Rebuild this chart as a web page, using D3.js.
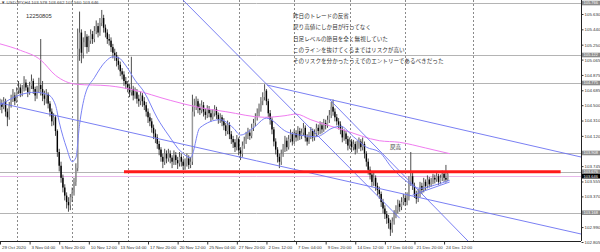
<!DOCTYPE html>
<html>
<head>
<meta charset="utf-8">
<script src="https://cdn.jsdelivr.net/npm/d3@7"></script>
<style>
  body { margin: 0; background: #fff; }
  svg { display: block; }
  text { font-family: "Liberation Sans", Arial, sans-serif; }
  .jp { font-family: "Noto Sans CJK JP", sans-serif; }
</style>
</head>
<body>
<script>
// USDJPY H4 candles, bar 0 = 29 Oct 2020
let opens = [
  104.50,104.52,104.48,104.55,104.42,104.35,104.50,104.58,104.62,104.55,
  104.68,104.72,104.65,104.70,104.78,104.72,104.66,104.74,104.80,104.70,
  104.62,104.68,104.75,104.70,104.62,104.58,104.64,104.52,104.42,104.30,
  104.35,104.18,103.92,103.75,103.60,103.48,103.38,103.30,103.26,103.36,
  103.42,103.55,103.72,105.20,105.40,105.15,105.28,105.35,105.22,105.30,
  105.38,105.32,105.42,105.48,105.40,105.52,105.58,105.46,105.40,105.32,
  105.30,105.22,105.15,105.12,105.05,105.00,104.92,104.88,104.80,104.76,
  104.72,104.66,104.70,104.62,104.66,104.58,104.55,104.62,104.55,104.50,
  104.42,104.35,104.30,104.22,104.15,104.10,104.02,103.95,103.86,103.80,
  103.90,103.84,103.90,103.85,103.80,103.88,103.82,103.78,103.86,103.80,
  103.75,103.78,103.84,103.76,103.80,104.42,104.50,104.55,104.47,104.44,
  104.50,104.42,104.38,104.45,104.40,104.35,104.40,104.45,104.38,104.32,
  104.35,104.30,104.25,104.18,104.26,104.14,104.08,104.04,103.98,104.08,
  103.94,103.90,104.00,104.06,104.12,104.16,104.12,104.22,104.28,104.35,
  104.40,104.46,104.55,104.60,104.68,104.55,104.40,104.32,104.20,104.05,
  103.95,103.86,103.80,103.90,103.96,104.06,103.98,104.08,104.14,104.05,
  104.15,104.10,104.18,104.12,104.16,104.22,104.10,104.05,104.12,104.18,
  104.10,104.15,104.22,104.18,104.25,104.20,104.28,104.25,104.32,104.38,
  104.48,104.42,104.35,104.30,104.26,104.20,104.10,104.15,104.08,104.00,
  104.05,103.98,104.02,103.95,104.00,104.05,103.98,104.02,103.90,103.80,
  103.70,103.64,103.55,103.60,103.50,103.45,103.40,103.30,103.22,103.15,
  103.10,103.04,102.96,103.06,103.15,103.20,103.28,103.24,103.30,103.35,
  103.30,103.36,103.55,103.62,103.50,103.40,103.34,103.40,103.50,103.45,
  103.55,103.50,103.58,103.52,103.55,103.60,103.58,103.62,103.55,103.60,
  103.65,103.60,103.578
]
let highs = [
  104.58,104.57,104.60,104.58,104.46,104.54,104.63,104.70,104.66,104.72,
  104.80,104.76,104.75,104.86,104.82,104.75,104.79,104.88,104.83,104.73,
  104.74,104.84,105.32,104.80,104.68,104.70,104.66,104.55,104.46,104.40,
  104.38,104.20,103.96,103.80,103.64,103.52,103.42,103.36,103.40,103.48,
  103.60,103.78,105.45,105.66,105.44,105.34,105.42,105.38,105.36,105.44,
  105.42,105.48,105.55,105.52,105.58,105.68,105.62,105.50,105.44,105.38,
  105.34,105.26,105.20,105.16,105.10,105.04,104.96,104.92,104.85,104.80,
  104.76,105.10,104.74,104.72,104.70,104.63,104.67,104.65,104.60,104.54,
  104.46,104.40,104.34,104.26,104.20,104.14,104.06,103.98,103.90,103.96,
  103.94,103.96,103.94,103.88,103.94,103.92,103.86,103.92,103.90,103.84,
  103.84,103.90,103.88,103.86,104.63,104.58,104.61,104.58,104.52,104.56,
  104.54,104.46,104.50,104.49,104.44,104.45,104.50,104.48,104.41,104.40,
  104.38,104.34,104.28,104.31,104.29,104.18,104.12,104.08,104.13,104.10,
  103.98,104.05,104.11,104.17,104.22,104.20,104.27,104.33,104.40,104.46,
  104.52,104.60,104.66,104.76,104.70,104.58,104.44,104.35,104.23,104.09,
  103.98,103.90,103.95,104.02,104.12,104.10,104.13,104.20,104.17,104.20,
  104.19,104.24,104.22,104.21,104.28,104.25,104.14,104.17,104.23,104.21,
  104.20,104.27,104.26,104.30,104.29,104.33,104.32,104.37,104.44,104.54,
  104.57,104.46,104.39,104.34,104.30,104.24,104.20,104.18,104.12,104.10,
  104.08,104.07,104.05,104.06,104.10,104.08,104.10,104.05,103.93,103.84,
  103.74,103.68,103.66,103.63,103.54,103.49,103.43,103.34,103.26,103.19,
  103.14,103.08,103.11,103.20,103.26,103.33,103.32,103.36,103.40,103.39,
  103.42,103.62,103.92,103.66,103.54,103.44,103.46,103.55,103.54,103.60,
  103.58,103.63,103.61,103.60,103.65,103.64,103.67,103.65,103.64,103.69,
  103.67,103.76,103.662
]
let lows = [
  104.44,104.40,104.45,104.36,104.24,104.32,104.47,104.54,104.50,104.53,
  104.64,104.60,104.61,104.67,104.68,104.60,104.63,104.70,104.64,104.55,
  104.58,104.65,104.62,104.55,104.50,104.52,104.46,104.36,104.24,104.25,
  104.12,103.86,103.68,103.54,103.42,103.32,103.22,103.18,103.20,103.30,
  103.38,103.50,103.68,105.05,105.02,105.08,105.22,105.14,105.16,105.26,
  105.26,105.28,105.38,105.34,105.36,105.48,105.40,105.34,105.26,105.24,
  105.16,105.08,105.05,104.98,104.94,104.86,104.82,104.74,104.70,104.66,
  104.60,104.62,104.56,104.58,104.52,104.48,104.50,104.48,104.44,104.36,
  104.28,104.24,104.16,104.08,104.03,103.96,103.88,103.80,103.72,103.76,
  103.78,103.80,103.78,103.72,103.76,103.76,103.71,103.74,103.74,103.70,
  103.70,103.74,103.71,103.72,103.76,104.36,104.44,104.40,104.38,104.40,
  104.36,104.32,104.34,104.35,104.30,104.32,104.36,104.33,104.27,104.28,
  104.24,104.19,104.12,104.14,104.08,104.02,103.97,103.92,103.94,103.88,
  103.82,103.86,103.96,104.02,104.08,104.07,104.09,104.18,104.24,104.31,
  104.36,104.42,104.50,104.56,104.50,104.35,104.26,104.14,103.99,103.89,
  103.79,103.72,103.76,103.86,103.92,103.93,103.95,104.04,104.00,104.02,
  104.05,104.06,104.07,104.08,104.12,104.05,104.00,104.02,104.08,104.05,
  104.06,104.11,104.13,104.14,104.15,104.17,104.20,104.22,104.28,104.34,
  104.37,104.30,104.25,104.20,104.14,104.04,104.06,104.02,103.94,103.96,
  103.92,103.94,103.89,103.91,103.96,103.93,103.94,103.84,103.74,103.64,
  103.58,103.49,103.50,103.44,103.38,103.34,103.24,103.16,103.09,103.03,
  102.97,102.88,102.92,103.02,103.10,103.16,103.18,103.20,103.26,103.25,
  103.26,103.32,103.50,103.45,103.35,103.28,103.30,103.36,103.40,103.42,
  103.45,103.47,103.48,103.49,103.52,103.53,103.55,103.51,103.52,103.56,
  103.55,103.54,103.560
]
let closes = [
  104.52,104.48,104.55,104.42,104.35,104.50,104.58,104.62,104.55,104.68,
  104.72,104.65,104.70,104.78,104.72,104.66,104.74,104.80,104.70,104.62,
  104.68,104.75,104.70,104.62,104.58,104.64,104.52,104.42,104.30,104.35,
  104.18,103.92,103.75,103.60,103.48,103.38,103.30,103.26,103.36,103.42,
  103.55,103.72,105.20,105.40,105.15,105.28,105.35,105.22,105.30,105.38,
  105.32,105.42,105.48,105.40,105.52,105.58,105.46,105.40,105.32,105.30,
  105.22,105.15,105.12,105.05,105.00,104.92,104.88,104.80,104.76,104.72,
  104.66,104.70,104.62,104.66,104.58,104.55,104.62,104.55,104.50,104.42,
  104.35,104.30,104.22,104.15,104.10,104.02,103.95,103.86,103.80,103.90,
  103.84,103.90,103.85,103.80,103.88,103.82,103.78,103.86,103.80,103.75,
  103.78,103.84,103.76,103.80,104.42,104.50,104.55,104.47,104.44,104.50,
  104.42,104.38,104.45,104.40,104.35,104.40,104.45,104.38,104.32,104.35,
  104.30,104.25,104.18,104.26,104.14,104.08,104.04,103.98,104.08,103.94,
  103.90,104.00,104.06,104.12,104.16,104.12,104.22,104.28,104.35,104.40,
  104.46,104.55,104.60,104.68,104.55,104.40,104.32,104.20,104.05,103.95,
  103.86,103.80,103.90,103.96,104.06,103.98,104.08,104.14,104.05,104.15,
  104.10,104.18,104.12,104.16,104.22,104.10,104.05,104.12,104.18,104.10,
  104.15,104.22,104.18,104.25,104.20,104.28,104.25,104.32,104.38,104.48,
  104.42,104.35,104.30,104.26,104.20,104.10,104.15,104.08,104.00,104.05,
  103.98,104.02,103.95,104.00,104.05,103.98,104.02,103.90,103.80,103.70,
  103.64,103.55,103.60,103.50,103.45,103.40,103.30,103.22,103.15,103.10,
  103.04,102.96,103.06,103.15,103.20,103.28,103.24,103.30,103.35,103.30,
  103.36,103.55,103.62,103.50,103.40,103.34,103.40,103.50,103.45,103.55,
  103.50,103.58,103.52,103.55,103.60,103.58,103.62,103.55,103.60,103.65,
  103.60,103.578,103.646
]

// moving averages, read at selected bars
let slowMaBars = [0, 11, 22, 30, 41, 59, 72, 92, 108, 122, 143, 154, 160, 168, 186, 205, 216, 230, 243]
let slowMaVals = [105.26, 105.18, 105.06, 104.87, 104.76, 104.74, 104.69, 104.56, 104.47, 104.42,
                  104.35, 104.37, 104.39, 104.32, 104.19, 104.06, 104.04, 103.97, 103.90]
let fastMaBars = [0, 11, 19, 26, 30, 32, 36, 39, 41, 43, 46, 51, 57, 61, 64, 68, 73, 78, 85, 91,
                  98, 103, 108, 119, 126, 130, 137, 144, 155, 162, 171, 180, 184, 191, 198, 205, 212, 219, 227, 235, 243]
let fastMaVals = [104.50, 104.63, 104.66, 104.63, 104.50, 104.29, 103.97, 103.80, 103.85, 104.26,
                  104.63, 104.84, 105.04, 105.10, 105.09, 104.99, 104.81, 104.66, 104.34, 104.13,
                  103.92, 103.85, 104.22, 104.32, 104.22, 104.13, 104.22, 104.34, 104.17, 104.13,
                  104.11, 104.22, 104.24, 104.11, 103.98, 103.92, 103.72, 103.57, 103.47, 103.51, 103.57]

// trend lines [bar, price] pairs
let trendLines = [
  [[98.9, 105.803], [216, 103.10]],
  [[144.3, 104.750], [314, 103.858]],
  [[0, 104.527], [314, 102.904]],
  [[178.4, 104.564], [254, 102.792]],
  [[223, 103.387], [243, 103.548]]
]
let redLine = [[67, 103.676], [303, 103.676]]

// horizontal lines and their price tags
let hLinePrices = [105.766, 105.122, 104.775, 103.908, 103.676, 103.168]
let hLineLabels = ['105.766', '105.122', '104.775', '103.908', '103.676', '103.168']
let bidPrice = 103.646
let bidLinePrice = 103.620

let axisTicks = [105.630, 105.440, 105.250, 105.065, 104.875, 104.685, 104.500, 104.310,
                 104.120, 103.745, 103.555, 103.370, 102.990, 102.805]

let timeBars = [0, 16, 32, 48, 64, 80, 96, 112, 128, 144, 160, 176, 192, 208, 224, 240]
let timeLabels = ['29 Oct 2020', '3 Nov 04:00', '5 Nov 20:00', '10 Nov 12:00', '13 Nov 04:00',
                  '17 Nov 20:00', '20 Nov 12:00', '25 Nov 04:00', '27 Nov 20:00', '2 Dec 12:00',
                  '7 Dec 04:00', '9 Dec 20:00', '14 Dec 12:00', '17 Dec 04:00', '21 Dec 20:00', '24 Dec 12:00']
let gridBars = [9, 39, 69, 99, 129, 159, 189, 219, 255.5]

let notes = [
  '昨日のトレードの反省',
  '戻り高値にしか目が行ってなく',
  '日足レベルの節目を全く無視していた',
  'このラインを抜けてくるまではリスクが高い',
  'そのリスクを分かったうえでのエントリーであるべきだった'
]

let width = 600, height = 252
let plotRight = 581, plotBottom = 241

let x = d3.scaleLinear().domain([0, 314]).range([0, plotRight])
let y = d3.scaleLinear().domain([102.805, 105.630]).range([242, 14])

let svg = d3.select('body').append('svg')
    .attr('width', width)
    .attr('height', height)

svg.append('defs').append('clipPath').attr('id', 'plot')
    .append('rect').attr('width', plotRight).attr('height', plotBottom)

let plot = svg.append('g').attr('clip-path', 'url(#plot)')

//weekly grid
plot.selectAll('.grid')
    .data(gridBars)
    .enter()
    .append('line')
    .attr('x1', d => Math.round(x(d)) + 0.5)
    .attr('x2', d => Math.round(x(d)) + 0.5)
    .attr('y1', 0)
    .attr('y2', plotBottom)
    .attr('stroke', '#8a8a8a')
    .attr('stroke-dasharray', '2,2')

//horizontal levels
plot.selectAll('.hline')
    .data(hLinePrices)
    .enter()
    .append('line')
    .attr('x1', 0).attr('x2', plotRight)
    .attr('y1', d => Math.round(y(d)) + 0.5)
    .attr('y2', d => Math.round(y(d)) + 0.5)
    .attr('stroke', '#b4b4b4')

plot.append('line')
    .attr('x1', 0).attr('x2', plotRight)
    .attr('y1', Math.round(y(bidLinePrice)) + 0.5)
    .attr('y2', Math.round(y(bidLinePrice)) + 0.5)
    .attr('stroke', '#e7b8ea')

//candles
let bars = plot.selectAll('.bar')
    .data(closes)
    .enter()
    .append('g')

bars.append('line')
    .attr('x1', (d, i) => x(i))
    .attr('x2', (d, i) => x(i))
    .attr('y1', (d, i) => y(highs[i]))
    .attr('y2', (d, i) => y(lows[i]))
    .attr('stroke', '#3a3a3a')
    .attr('stroke-width', 0.9)

bars.append('rect')
    .attr('x', (d, i) => x(i) - 0.7)
    .attr('width', 1.4)
    .attr('y', (d, i) => y(Math.max(opens[i], d)))
    .attr('height', (d, i) => Math.max(0.8, Math.abs(y(opens[i]) - y(d))))
    .attr('fill', (d, i) => d >= opens[i] ? '#9a9a9a' : '#000')

//moving averages
let maLine = d3.line()
    .x(d => x(d[0]))
    .y(d => y(d[1]))
    .curve(d3.curveMonotoneX)

plot.append('path')
    .attr('d', maLine(slowMaBars.map((b, i) => [b, slowMaVals[i]])))
    .attr('fill', 'none')
    .attr('stroke', '#f07cf0')

plot.append('path')
    .attr('d', maLine(fastMaBars.map((b, i) => [b, fastMaVals[i]])))
    .attr('fill', 'none')
    .attr('stroke', '#7a82f5')

//trend lines
plot.selectAll('.trend')
    .data(trendLines)
    .enter()
    .append('line')
    .attr('x1', d => x(d[0][0])).attr('y1', d => y(d[0][1]))
    .attr('x2', d => x(d[1][0])).attr('y2', d => y(d[1][1]))
    .attr('stroke', '#6b72f2')
    .attr('stroke-width', 0.9)

plot.append('line')
    .attr('x1', x(redLine[0][0])).attr('y1', y(redLine[0][1]))
    .attr('x2', x(redLine[1][0])).attr('y2', y(redLine[1][1]))
    .attr('stroke', '#ff1a1a')
    .attr('stroke-width', 3)

//frame
svg.append('line')
    .attr('x1', plotRight + 0.5).attr('x2', plotRight + 0.5)
    .attr('y1', 0).attr('y2', plotBottom)
    .attr('stroke', '#222')
svg.append('line')
    .attr('x1', 0).attr('x2', plotRight)
    .attr('y1', plotBottom + 0.5).attr('y2', plotBottom + 0.5)
    .attr('stroke', '#222')

//price axis
let yAxis = svg.append('g')
    .attr('transform', 'translate(' + (plotRight + 0.5) + ',0)')
    .call(d3.axisRight(y).tickValues(axisTicks).tickSize(2).tickPadding(1).tickFormat(d3.format('.3f')))
yAxis.select('.domain').remove()
yAxis.selectAll('text').attr('font-size', 4.4).attr('fill', '#333')
yAxis.selectAll('line').attr('stroke', '#333')

let tags = svg.selectAll('.tag')
    .data(hLinePrices.map((p, i) => ({ p: p, t: hLineLabels[i], bg: '#8c8c8c' }))
      .concat([{ p: bidLinePrice, t: bidPrice.toFixed(3), bg: '#000' }]))
    .enter()
    .append('g')
    .attr('transform', d => 'translate(' + (plotRight + 1) + ',' + y(d.p) + ')')
tags.append('rect')
    .attr('y', -2.3).attr('width', 19).attr('height', 4.6)
    .attr('fill', d => d.bg)
tags.append('text')
    .attr('x', 1.5).attr('dy', '0.35em')
    .attr('font-size', 4.0)
    .attr('fill', '#fff')
    .text(d => d.t)

//time axis
let xAxis = svg.append('g')
    .attr('transform', 'translate(0,' + (plotBottom + 0.5) + ')')
    .call(d3.axisBottom(x).tickValues(timeBars).tickSize(3).tickPadding(1)
      .tickFormat((d, i) => timeLabels[i]))
xAxis.select('.domain').remove()
xAxis.selectAll('line').attr('stroke', '#333')
xAxis.selectAll('text')
    .attr('text-anchor', 'start')
    .attr('dx', 1.5)
    .attr('font-size', 4.4)
    .attr('fill', '#333')

//texts
svg.append('text')
    .attr('x', 1).attr('y', 4)
    .attr('font-size', 4.4).attr('fill', '#444')
    .text('▼ USDJPY,H4  103.578 103.662 103.560 103.646')

svg.append('text')
    .attr('x', 26).attr('y', 17.5)
    .attr('font-size', 5.8).attr('fill', '#333')
    .text('12250805')

svg.selectAll('.note')
    .data(notes)
    .enter()
    .append('text')
    .attr('class', 'jp')
    .attr('x', 293)
    .attr('y', (d, i) => 18 + i * 11.3)
    .attr('font-size', 5.6)
    .attr('fill', '#333')
    .text(d => d)

svg.append('text')
    .attr('class', 'jp')
    .attr('x', 390).attr('y', 149)
    .attr('font-size', 5.6).attr('fill', '#333')
    .text('戻高')
</script>
</body>
</html>
